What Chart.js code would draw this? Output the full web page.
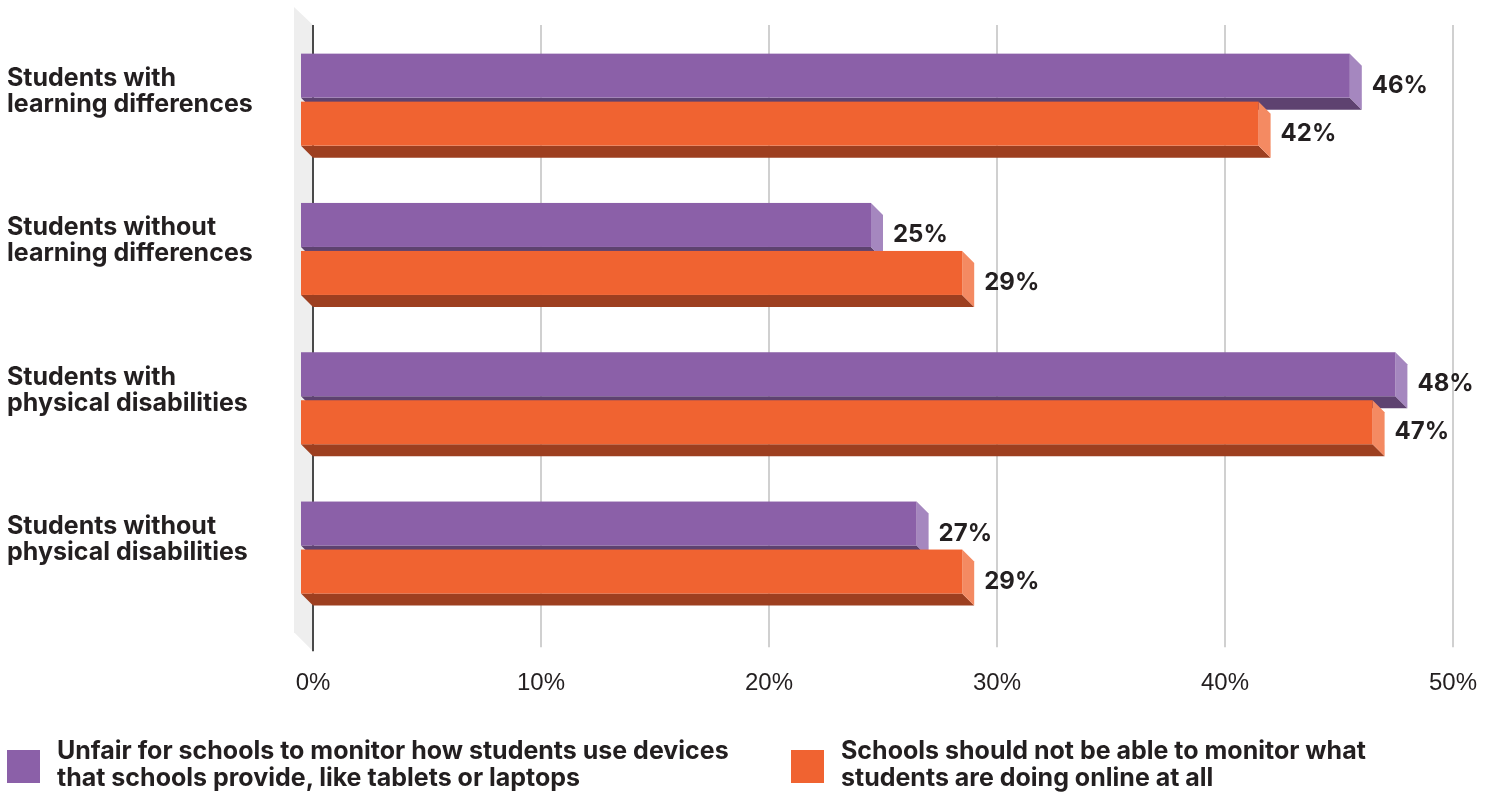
<!DOCTYPE html>
<html>
<head>
<meta charset="utf-8">
<script src="https://cdn.jsdelivr.net/npm/chart.js@4.4.1/dist/chart.umd.min.js"></script>
<style>
  html, body { margin: 0; padding: 0; background: #fff; }
  #wrap { position: relative; width: 1493px; height: 794px; overflow: hidden; }
  #chart { position: absolute; left: 0; top: 0; }
  .legend-item { position: absolute; top: 737px; }
  .legend-item .box { position: absolute; left: 0; top: 13px; width: 33px; height: 33px; }
  .legend-item .txt {
    position: absolute; left: 50px; top: 0; white-space: nowrap;
    font-family: Inter, Roboto, sans-serif; font-weight: bold;
    font-size: 25px; line-height: 27px; color: #231f20;
  }
</style>
</head>
<body>
<div id="wrap">
  <canvas id="chart" width="1493" height="760"></canvas>
  <div class="legend-item" style="left:7px">
    <div class="box" style="background:#8b60a8"></div>
    <div class="txt">Unfair for schools to monitor how students use devices<br>that schools provide, like tablets or laptops</div>
  </div>
  <div class="legend-item" style="left:791px">
    <div class="box" style="background:#f06331"></div>
    <div class="txt">Schools should not be able to monitor what<br>students are doing online at all</div>
  </div>
</div>
<script>
// categories and values
const categories = [
    ['Students with', 'learning differences'],
    ['Students without', 'learning differences'],
    ['Students with', 'physical disabilities'],
    ['Students without', 'physical disabilities']
];
const unfairValues = [46, 25, 48, 27];
const shouldNotValues = [42, 29, 47, 29];
const seriesNames = [
    'Unfair for schools to monitor how students use devices that schools provide, like tablets or laptops',
    'Schools should not be able to monitor what students are doing online at all'
];
const xTicks = [0, 10, 20, 30, 40, 50];

// front / side / bottom shades for the extruded bars
const shades = [
    { front: '#8b60a8', side: '#a587bf', bottom: '#5e4270' },
    { front: '#f06331', side: '#f48a62', bottom: '#9d3f20' }
];
const DEPTH = 12;

// wall, grid lines and axis line behind the bars
const backdrop = {
    id: 'backdrop',
    beforeDatasetsDraw(chart) {
        const ctx = chart.ctx;
        const area = chart.chartArea;
        const x = chart.scales.x;
        const top = area.top - 12;
        const bottom = area.bottom + 17;
        ctx.save();
        // grey wall on the left
        ctx.fillStyle = '#eeeeee';
        ctx.beginPath();
        ctx.moveTo(area.left - 19, top - 18);
        ctx.lineTo(area.left, top);
        ctx.lineTo(area.left, bottom);
        ctx.lineTo(area.left - 19, bottom - 19);
        ctx.closePath();
        ctx.fill();
        // grid lines
        ctx.strokeStyle = '#d0d0d0';
        ctx.lineWidth = 2;
        xTicks.slice(1).forEach(v => {
            const px = Math.round(x.getPixelForValue(v));
            ctx.beginPath();
            ctx.moveTo(px, top);
            ctx.lineTo(px, bottom - 4);
            ctx.stroke();
        });
        // zero line
        ctx.strokeStyle = '#4a4a4a';
        ctx.beginPath();
        ctx.moveTo(Math.round(area.left), top);
        ctx.lineTo(Math.round(area.left), bottom);
        ctx.stroke();
        ctx.restore();
    }
};

// 3D bars and value labels
const bars3d = {
    id: 'bars3d',
    afterDatasetsDraw(chart) {
        const ctx = chart.ctx;
        ctx.save();
        const n = chart.data.labels.length;
        for (let i = 0; i < n; i++) {
            chart.data.datasets.forEach((ds, di) => {
                const el = chart.getDatasetMeta(di).data[i];
                const c = shades[di];
                const left = el.base, right = el.x;
                const top = el.y - el.height / 2, bottom = el.y + el.height / 2;
                const d = DEPTH;
                // bottom face
                ctx.fillStyle = c.bottom;
                ctx.beginPath();
                ctx.moveTo(left - d, bottom - d);
                ctx.lineTo(right - d, bottom - d);
                ctx.lineTo(right, bottom);
                ctx.lineTo(left, bottom);
                ctx.closePath();
                ctx.fill();
                // side face
                ctx.fillStyle = c.side;
                ctx.beginPath();
                ctx.moveTo(right - d, top - d);
                ctx.lineTo(right, top);
                ctx.lineTo(right, bottom);
                ctx.lineTo(right - d, bottom - d);
                ctx.closePath();
                ctx.fill();
                // front face
                ctx.fillStyle = c.front;
                ctx.fillRect(left - d, top - d, right - left, bottom - top);
                // value label
                ctx.fillStyle = '#231f20';
                ctx.font = 'bold 24px Inter, Roboto, sans-serif';
                ctx.textAlign = 'left';
                ctx.textBaseline = 'middle';
                ctx.fillText(ds.data[i] + '%', right + 10, el.y - 2);
            });
        }
        ctx.restore();
    }
};

new Chart(document.getElementById('chart'), {
    type: 'bar',
    data: {
        labels: categories,
        datasets: [
            { label: seriesNames[0], data: unfairValues, backgroundColor: 'rgba(0,0,0,0)' },
            { label: seriesNames[1], data: shouldNotValues, backgroundColor: 'rgba(0,0,0,0)' }
        ]
    },
    options: {
        indexAxis: 'y',
        responsive: false,
        animation: false,
        categoryPercentage: 0.643,
        barPercentage: 0.917,
        layout: { padding: { left: 7, right: 40, top: 37, bottom: 35 } },
        scales: {
            x: {
                min: 0,
                max: 50,
                grid: { display: false },
                border: { display: false },
                afterBuildTicks(scale) {
                    scale.ticks = xTicks.map(v => ({ value: v }));
                },
                afterFit(scale) {
                    scale.paddingLeft = 0;
                    scale.paddingRight = 0;
                },
                ticks: {
                    padding: 27,
                    maxRotation: 0,
                    color: '#231f20',
                    font: { family: '"Liberation Sans", Arial, sans-serif', size: 24 },
                    callback: v => v + '%'
                }
            },
            y: {
                grid: { display: false },
                border: { display: false },
                afterFit(scale) {
                    scale.width = 306;
                    scale.paddingTop = 0;
                    scale.paddingBottom = 0;
                },
                ticks: {
                    crossAlign: 'far',
                    labelOffset: -20,
                    color: '#231f20',
                    font: { family: 'Inter, Roboto, sans-serif', size: 25, weight: 'bold', lineHeight: 1.04 }
                }
            }
        },
        plugins: {
            legend: { display: false },
            tooltip: { enabled: false }
        }
    },
    plugins: [backdrop, bars3d]
});
</script>
</body>
</html>
